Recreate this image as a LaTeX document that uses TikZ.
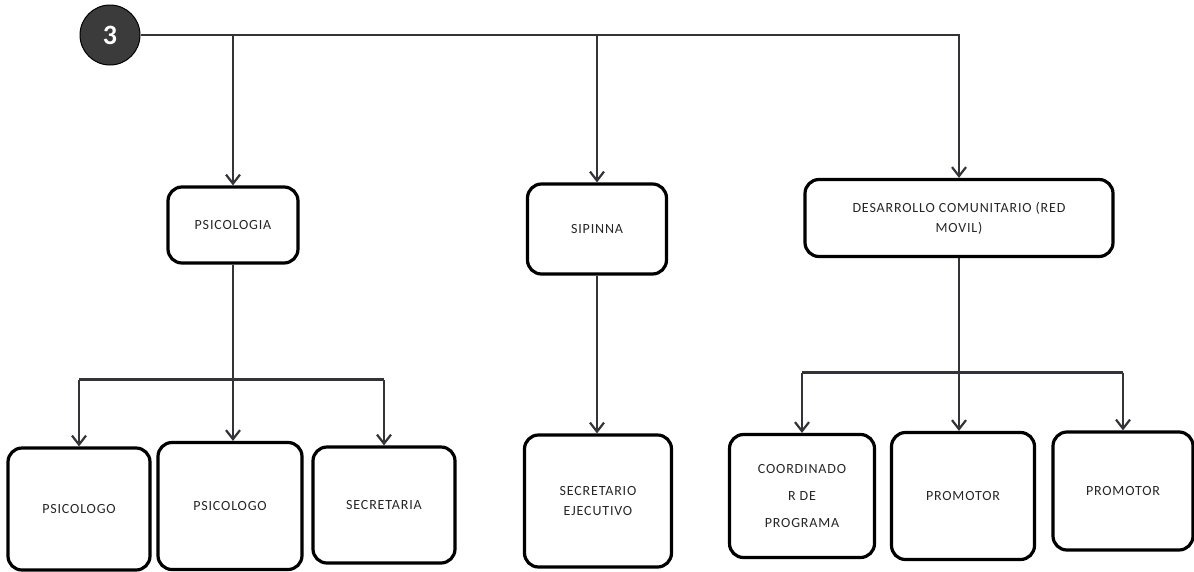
\documentclass[tikz,border=0pt]{standalone}
\usepackage{fontspec}
\usepackage{xcolor}
\usetikzlibrary{arrows.meta, positioning, calc}
\newfontfamily\boxfont[LetterSpace=6]{Carlito}
\newfontfamily\numfont{Carlito}
\definecolor{linea}{rgb}{0.2,0.2,0.22}
\definecolor{texto}{rgb}{0.15,0.15,0.15}
\definecolor{circulo}{rgb}{0.23,0.23,0.23}

\begin{document}
\begin{tikzpicture}[x=1pt, y=-1pt,
    caja/.style={draw=black, line width=3.2pt, rounded corners=14pt, align=center,
      inner sep=2pt, text=texto, font=\boxfont\fontsize{14}{20}\selectfont},
    flecha/.style={draw=linea, line width=2.8pt, -{Straight Barb[length=9pt, width=14pt, line width=2.2pt]}},
    linea/.style={draw=linea, line width=2.8pt}]
    \useasboundingbox (0,0) rectangle (1194,571);

    % numero
    \node (num) [circle, fill=circulo, draw=black, line width=1pt, minimum size=60pt,
      text=white, font=\numfont\bfseries\fontsize{28}{30}\selectfont] at (110,35) {3};

    % primer nivel
    \node (psico) [caja, minimum width=130pt, minimum height=76pt] at (233,225) {PSICOLOGIA};
    \node (sipinna) [caja, minimum width=139pt, minimum height=90pt] at (597,229) {SIPINNA};
    \node (desa) [caja, minimum width=308pt, minimum height=77pt] at (959,218) {DESARROLLO COMUNITARIO (RED\\
      MOVIL)};

    % segundo nivel
    \node (psi1) [caja, minimum width=142pt, minimum height=122pt] at (79,509) {PSICOLOGO};
    \node (psi2) [caja, minimum width=144pt, minimum height=127pt] at (230,506) {PSICOLOGO};
    \node (secr) [caja, minimum width=142pt, minimum height=116pt] at (384,505) {SECRETARIA};
    \node (ejec) [caja, minimum width=147pt, minimum height=132pt] at (598,501) {SECRETARIO\\
      EJECUTIVO};
    \node (coord) [caja, minimum width=145pt, minimum height=123pt] at (802,496) {COORDINADO\\[7pt]
      R DE\\[7pt]
      PROGRAMA};
    \node (prom1) [caja, minimum width=143pt, minimum height=127pt] at (963,496) {PROMOTOR};
    \node (prom2) [caja, minimum width=140pt, minimum height=118pt] at (1123,491) {PROMOTOR};

    % conectores
    \coordinate (pbus) at ($(psico.south)!0.5!(psi2.north)+(0,27)$);
    \coordinate (dbus) at ($(desa.south)!0.5!(prom1.north)+(0,28)$);

    \draw [flecha] (num.east) -| (desa.north);
    \draw [flecha] (num.east -| psico.north) -- (psico.north);
    \draw [flecha] (num.east -| sipinna.north) -- (sipinna.north);

    \draw [flecha] (psico.south) -- (psico.south |- psi2.north);
    \draw [linea] (pbus -| psi1.north) -- (pbus -| secr.north);
    \draw [flecha] (pbus -| psi1.north) -- (psi1.north);
    \draw [flecha] (pbus -| secr.north) -- (secr.north);

    \draw [flecha] (sipinna.south) -- (sipinna.south |- ejec.north);

    \draw [flecha] (desa.south) -- (desa.south |- prom1.north);
    \draw [linea] (dbus -| coord.north) -- (dbus -| prom2.north);
    \draw [flecha] (dbus -| coord.north) -- (coord.north);
    \draw [flecha] (dbus -| prom2.north) -- (prom2.north);
  \end{tikzpicture}
\end{document}
